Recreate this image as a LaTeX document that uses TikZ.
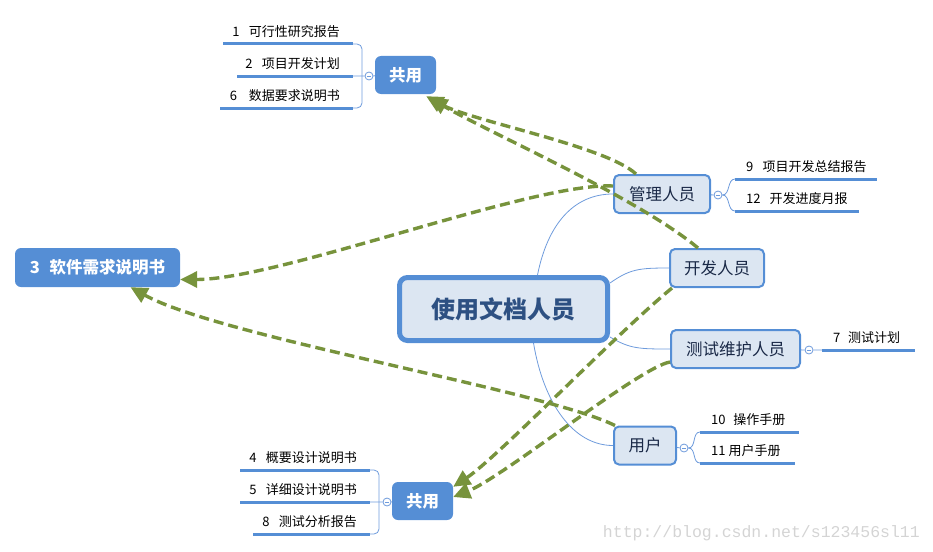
\documentclass[tikz,border=0pt]{standalone}
\usepackage{fontspec}
\setmainfont{Noto Sans CJK SC}
\newfontfamily\markFont{Liberation Mono}
\usetikzlibrary{arrows.meta}
\definecolor{boxBlue}{RGB}{85,142,213}
\definecolor{boxFill}{RGB}{220,230,242}
\definecolor{lineBlue}{RGB}{110,155,220}
\definecolor{arrowGreen}{RGB}{119,147,60}
\definecolor{centerText}{RGB}{45,80,130}
\definecolor{roleText}{RGB}{25,40,70}
\tikzstyle{mapSheet} = [x = 1pt, y = -1pt]
\tikzstyle{centerBox} = [draw=boxBlue, line width=5pt, fill=boxFill, rounded corners=8pt, minimum width=208, minimum height=63, text=centerText, font=\fontsize{24}{28}\selectfont\bfseries]
\tikzstyle{roleBox} = [draw=boxBlue, line width=2pt, fill=boxFill, rounded corners=5pt, minimum height=38, text=roleText, font=\fontsize{16.5}{19}\selectfont]
\tikzstyle{sharedBox} = [fill=boxBlue, rounded corners=6pt, minimum width=61, minimum height=38, text=white, font=\fontsize{16.5}{19}\selectfont\bfseries]
\tikzstyle{leafText} = [inner sep=0pt, font=\fontsize{13}{15}\selectfont]
\tikzstyle{leafLine} = [draw=boxBlue, line width=3pt]
\tikzstyle{branchLine} = [draw=lineBlue, line width=0.8pt]
\tikzstyle{foldMark} = [circle, draw=lineBlue, fill=white, line width=0.8pt, inner sep=0pt, minimum size=8,
  path picture={\draw [lineBlue, line width=0.7pt] ([xshift=-2.2pt]path picture bounding box.center) -- ([xshift=2.2pt]path picture bounding box.center);}]
\tikzstyle{refArrow} = [draw=arrowGreen, line width=3.4pt, dash pattern=on 10pt off 5pt, -{Triangle[length=17pt, width=16pt]}]
\tikzstyle{waterMark} = [inner sep=0pt, text=black!17, font=\markFont\fontsize{16.5}{18}\selectfont]
\newcommand{\leftLeaf}[5]{
  \coordinate (#1s) at (#2, #4);
  \coordinate (#1e) at (#3, #4);
  \draw [leafLine] (#1s) -- (#1e);
  \node [leafText, anchor=base east] (#1) at (#3 - 13, #4 - 7.5) {#5};
}
\newcommand{\rightLeaf}[5]{
  \coordinate (#1s) at (#2, #4);
  \coordinate (#1e) at (#3, #4);
  \draw [leafLine] (#1s) -- (#1e);
  \node [leafText, anchor=base west] (#1) at (#2 + 11, #4 - 8) {#5};
}
\begin{document}
\begin{tikzpicture}[mapSheet]
  \useasboundingbox (0,0) rectangle (933,551);

  \node [centerBox] (people) at (503.5,309) {使用文档人员};
  \node [roleBox, minimum width=96] (mgr) at (662,194) {管理人员};
  \node [roleBox, minimum width=94] (dev) at (717,268) {开发人员};
  \node [roleBox, minimum width=129] (test) at (735.5,349) {测试维护人员};
  \node [roleBox, minimum width=62] (user) at (645,445.5) {用户};
  \node [sharedBox] (tShared) at (405.5,75) {共用};
  \node [sharedBox] (bShared) at (422.5,501) {共用};
  \node [sharedBox, minimum width=165, minimum height=39] (swReq) at (97.5,267.5) {3\hspace{0.6em}软件需求说明书};

  \leftLeaf{t1}{223}{353}{44}{1\hspace{0.7em}可行性研究报告}
  \leftLeaf{t2}{237}{353}{76}{2\hspace{0.7em}项目开发计划}
  \leftLeaf{t3}{220}{353}{108}{6\hspace{0.9em}数据要求说明书}
  \leftLeaf{b1}{240}{370}{470}{4\hspace{0.7em}概要设计说明书}
  \leftLeaf{b2}{240}{370}{502}{5\hspace{0.7em}详细设计说明书}
  \leftLeaf{b3}{253}{370}{534}{8\hspace{0.7em}测试分析报告}
  \rightLeaf{m1}{735}{877}{179}{9\hspace{0.7em}项目开发总结报告}
  \rightLeaf{m2}{735}{859}{211}{12\hspace{0.7em}开发进度月报}
  \rightLeaf{ts1}{822}{915}{350}{7\hspace{0.6em}测试计划}
  \rightLeaf{u1}{700}{799}{432}{10\hspace{0.6em}操作手册}
  \rightLeaf{u2}{700}{795}{463}{11 用户手册}

  \node [foldMark] (tFold) at (369,76) {};
  \node [foldMark] (mFold) at (718,195) {};
  \node [foldMark] (tsFold) at (809,350) {};
  \node [foldMark] (uFold) at (684,448) {};
  \node [foldMark] (bFold) at (387,502) {};
  \coordinate (tBar) at (362,76);
  \coordinate (bBar) at (379,502);

  \draw [branchLine] ([xshift=34pt]people.north) .. controls +(10,-50) and +(-40,0) .. (mgr.west);
  \draw [branchLine] ([yshift=26pt]people.east) .. controls +(20,-14) and +(-30,0) .. (dev.west);
  \draw [branchLine] ([yshift=-28pt]people.east) .. controls +(20,12) and +(-30,0) .. (test.west);
  \draw [branchLine] ([xshift=30pt]people.south) .. controls +(10,60) and +(-40,0) .. (user.west);

  \draw [branchLine, rounded corners=5pt] (t1e) -| (tBar) |- (t3e);
  \draw [branchLine] (t2e) -- (tFold) -- (tShared);
  \draw [branchLine, rounded corners=5pt] (b1e) -| (bBar) |- (b3e);
  \draw [branchLine] (b2e) -- (bFold) -- (bShared);
  \draw [branchLine] (mgr) -- (mFold);
  \draw [branchLine] (mFold.east) .. controls +(8,0) and +(-8,0) .. (m1s);
  \draw [branchLine] (mFold.east) .. controls +(8,0) and +(-8,0) .. (m2s);
  \draw [branchLine] (test) -- (tsFold) -- (ts1s);
  \draw [branchLine] (user) -- (uFold);
  \draw [branchLine] (uFold.east) .. controls +(8,0) and +(-8,0) .. (u1s);
  \draw [branchLine] (uFold.east) .. controls +(8,0) and +(-8,0) .. (u2s);

  \draw [refArrow] ([xshift=-26pt]mgr.north) .. controls +(-30,-28) and +(45,25) .. ([xshift=-10pt,yshift=-2pt]tShared.south east);
  \draw [refArrow] ([xshift=-19pt]dev.north) .. controls +(-60,-50) and +(60,35) .. ([xshift=-6pt,yshift=-4pt]tShared.south east);
  \draw [refArrow] ([yshift=8pt]mgr.west) .. controls +(-80,-4) and +(100,0) .. ([yshift=-12pt]swReq.east);
  \draw [refArrow] ([xshift=2pt]user.north west) .. controls +(-70,-35) and +(90,50) .. ([xshift=33pt]swReq.south);
  \draw [refArrow] ([xshift=3pt]dev.south west) .. controls +(-55,45) and +(45,-30) .. ([yshift=-5pt]bShared.north east);
  \draw [refArrow] ([yshift=7pt]test.south west) .. controls +(-30,5) and +(50,-20) .. ([yshift=4pt]bShared.east);

  \node [waterMark, anchor=base east] (mark) at (920,537) {http://blog.csdn.net/s123456sl11};
\end{tikzpicture}
\end{document}
